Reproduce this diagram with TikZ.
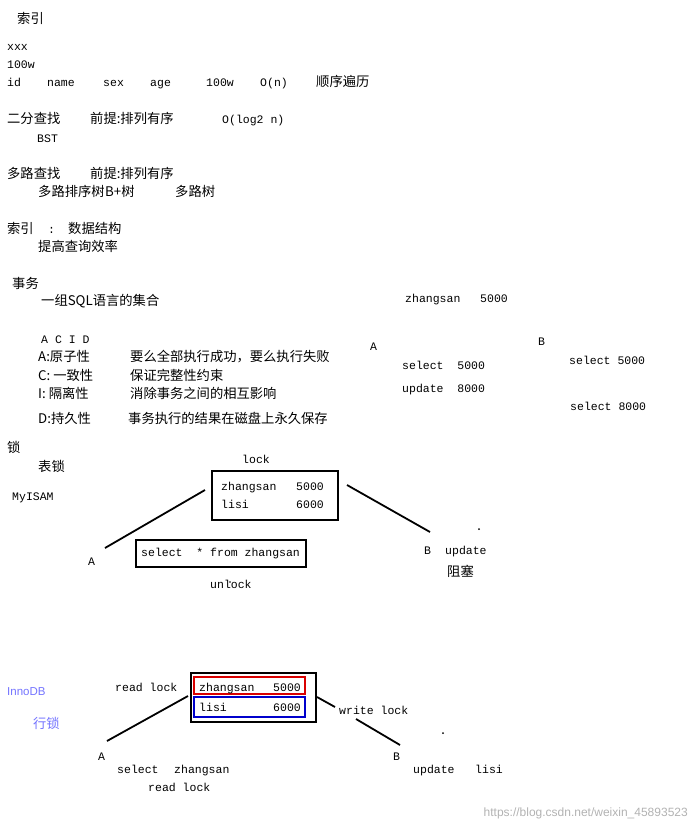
\documentclass[tikz,border=0pt]{standalone}
\usepackage{fontspec}
\setmainfont{Liberation Mono}
\newfontfamily\cjk{Noto Sans CJK SC}
\newfontfamily\wmf{Liberation Sans}
\begin{document}
\begin{tikzpicture}[x=1pt,y=-1pt,
  t/.style={anchor=base west,inner sep=0pt,font=\fontsize{11.5}{12}\selectfont},
  c/.style={anchor=base west,inner sep=0pt,font=\cjk\fontsize{13.3}{14}\selectfont},
  ln/.style={line width=1.8pt},
  bx/.style={draw,line width=1.8pt}]
\useasboundingbox (0,0) rectangle (697,831);
\node[c] (n1) at (17,23) {索引};
\node[t] (n2) at (7,50) {xxx};
\node[t] (n3) at (7,68) {100w};
\node[t] (n4) at (7,86) {id};
\node[t] (n5) at (47,86) {name};
\node[t] (n6) at (103,86) {sex};
\node[t] (n7) at (150,86) {age};
\node[t] (n8) at (206,86) {100w};
\node[t] (n9) at (260,86) {O(n)};
\node[c] (n10) at (316,86) {顺序遍历};
\node[c] (n11) at (7,123) {二分查找};
\node[c] (n12) at (90,123) {前提:排列有序};
\node[t] (n13) at (222,123) {O(log2 n)};
\node[t] (n14) at (37,142) {BST};
\node[c] (n15) at (7,178) {多路查找};
\node[c] (n16) at (90,178) {前提:排列有序};
\node[c] (n17) at (38,196) {多路排序树};
\node[c] (n18) at (105,196) {B+树};
\node[c] (n19) at (175,196) {多路树};
\node[c] (n20) at (7,233) {索引};
\node[t] (n21) at (48,233) {:};
\node[c] (n22) at (68,233) {数据结构};
\node[c] (n23) at (38,251) {提高查询效率};
\node[c] (n24) at (12,288) {事务};
\node[c] (n25) at (41,305) {一组SQL语言的集合};
\node[t] (n26) at (405,302) {zhangsan};
\node[t] (n27) at (480,302) {5000};
\node[t] (n28) at (41,343) {A C I D};
\node[t] (n29) at (370,350) {A};
\node[t] (n30) at (538,345) {B};
\node[c] (n31) at (38,361) {A:原子性};
\node[c] (n32) at (130,361) {要么全部执行成功，要么执行失败};
\node[t] (n33) at (402,369) {select\ \ 5000};
\node[t] (n34) at (569,364) {select 5000};
\node[c] (n35) at (38,380) {C: 一致性};
\node[c] (n36) at (130,380) {保证完整性约束};
\node[t] (n37) at (402,392) {update\ \ 8000};
\node[c] (n38) at (38,398) {I: 隔离性};
\node[c] (n39) at (130,398) {消除事务之间的相互影响};
\node[t] (n40) at (570,410) {select 8000};
\node[c] (n41) at (38,423) {D:持久性};
\node[c] (n42) at (128,423) {事务执行的结果在磁盘上永久保存};
\node[c] (n43) at (7,452) {锁};
\node[c] (n44) at (38,471) {表锁};
\node[t] (n45) at (12,500) {MyISAM};
\node[t] (n46) at (242,463) {lock};
\node[bx,minimum width=126pt,minimum height=49pt] (tb) at (275,495.5) {};
\node[t] (z1) at (221,490) {zhangsan};
\node[t] (z2) at (296,490) {5000};
\node[t] (l1) at (221,508) {lisi};
\node[t] (l2) at (296,508) {6000};
\coordinate (a1) at (205,490); \coordinate (a2) at (105,548);
\draw[ln] (a1) -- (a2);
\coordinate (b1) at (347,485); \coordinate (b2) at (430,532);
\draw[ln] (b1) -- (b2);
\fill (479,529) circle (1pt);
\node[t] (A1) at (88,565) {A};
\node[bx,minimum width=170pt,minimum height=27pt] (sb) at (221,553.5) {};
\node[t] (s1) at (141,556) {select\ \ * from zhangsan};
\node[t] (B1) at (424,554) {B};
\node[t] (u1) at (445,554) {update};
\node[c] (zs) at (447,576) {阻塞};
\node[t] (ul) at (210,588) {unlock};
\fill (230,582) circle (0.8pt);
\node[t,text=blue!55,font=\wmf\fontsize{11.5}{12}\selectfont] (inn) at (7,695) {InnoDB};
\node[c,text=blue!55] (hs) at (33,728) {行锁};
\node[t] (rl) at (115,691) {read lock};
\node[bx,minimum width=125pt,minimum height=49pt] (ob) at (253.5,697.5) {};
\draw[red!85!black,line width=1.5pt] (194,677) rectangle (305,694);
\draw[blue!80!black,line width=1.5pt] (194,697) rectangle (305,717);
\node[t] (z3) at (199,691) {zhangsan};
\node[t] (z4) at (273,691) {5000};
\node[t] (l3) at (199,711) {lisi};
\node[t] (l4) at (273,711) {6000};
\coordinate (c1) at (188,696); \coordinate (c2) at (107,741);
\draw[ln] (c1) -- (c2);
\coordinate (d1) at (317,697); \coordinate (d2) at (335,707);
\draw[ln] (d1) -- (d2);
\node[t] (wl) at (339,714) {write lock};
\coordinate (e1) at (356,719); \coordinate (e2) at (400,745);
\draw[ln] (e1) -- (e2);
\fill (443,733) circle (1pt);
\node[t] (A2) at (98,760) {A};
\node[t] (s2) at (117,773) {select};
\node[t] (z5) at (174,773) {zhangsan};
\node[t] (rl2) at (148,791) {read lock};
\node[t] (B2) at (393,760) {B};
\node[t] (u2) at (413,773) {update};
\node[t] (ls) at (475,773) {lisi};
\node[anchor=base east,inner sep=0pt,text=gray!60,font=\wmf\fontsize{12}{12}\selectfont] (wm) at (688,816) {https://blog.csdn.net/weixin\_45893523};
\end{tikzpicture}
\end{document}
